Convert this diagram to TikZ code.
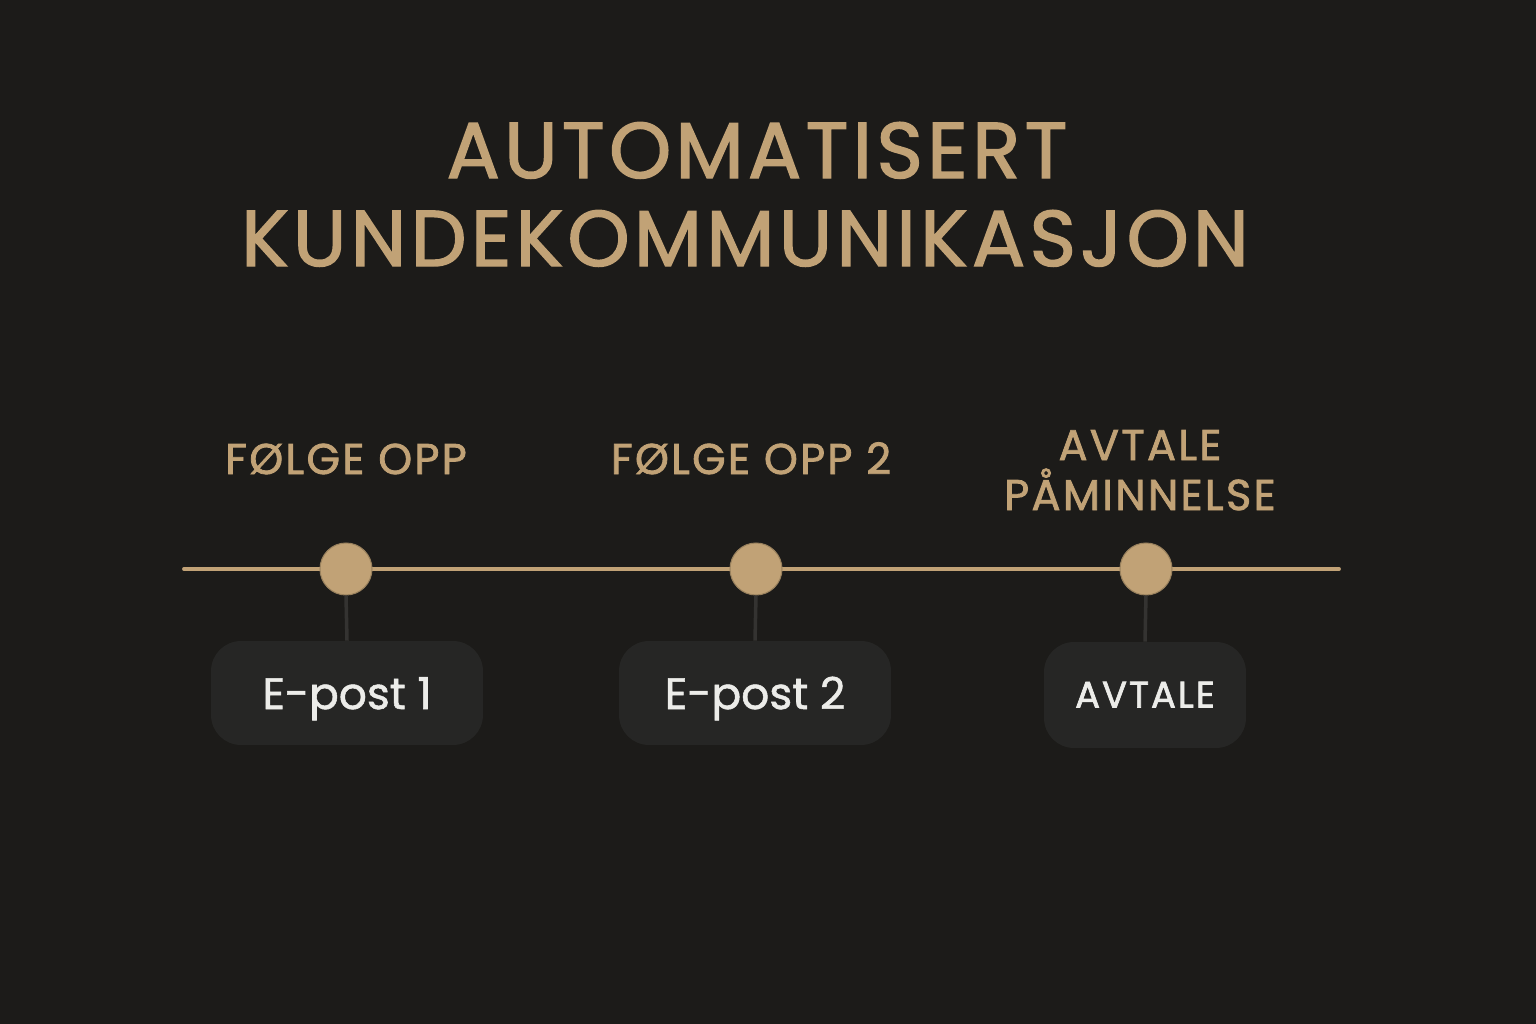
\documentclass[tikz,border=0pt]{standalone}
\usepackage{fontspec}
\setmainfont{Poppins}[FakeBold=1.2]
\newfontfamily\titlefont{Poppins}[LetterSpace=5.5, FakeBold=1.8]
\newfontfamily\labelfont{Poppins}[LetterSpace=5.5, FakeBold=1.8]
\usetikzlibrary{positioning,calc}

\definecolor{bg}{RGB}{28,27,25}
\definecolor{gold}{RGB}{193,162,118}
\definecolor{boxgray}{RGB}{38,38,37}
\definecolor{stemgray}{RGB}{52,51,49}
\definecolor{offwhite}{RGB}{236,236,233}

\tikzset{
  title/.style={gold, anchor=base, font=\titlefont\fontsize{45}{54}\selectfont},
  steplabel/.style={gold, anchor=base, align=center, font=\labelfont\fontsize{24.5}{28.4}\selectfont},
  dot/.style={circle, fill=gold, draw=gold!80!black, line width=0.6pt, minimum size=1.04cm},
  mailbox/.style={rounded corners=0.6cm, fill=boxgray, text=offwhite, minimum width=5.44cm, minimum height=2.08cm,
                  text height=0.64cm, text depth=0pt, font=\fontsize{25}{30}\selectfont},
  stem/.style={stemgray, line width=2pt}
}

\begin{document}
\begin{tikzpicture}[x=0.02cm, y=-0.02cm, every node/.style={inner sep=0pt}]
  % Define dimensions
  \def\W{1536}
  \def\H{1024}
  \def\ty{569}
  % Background
  \fill[bg] (0,0) rectangle (\W,\H);
  \useasboundingbox (0,0) rectangle (\W,\H);

  % Title
  \node[title] (t1) at (757,178) {AUTOMATISERT};
  \node[title] (t2) at (745,266) {KUNDEKOMMUNIKASJON};

  % Define points
  \coordinate (L) at (184,\ty);
  \coordinate (R) at (1339,\ty);
  \draw[gold, line width=2.2pt, line cap=round] (L) -- (R);

  % Draw points
  \foreach \name/\x in {d1/346, d2/756, d3/1146}
      \node[dot] (\name) at (\x,\ty) {};

  % Label points
  \node[steplabel] (s1) at (346,474) {FØLGE OPP};
  \node[steplabel] (s2) at (751,474) {FØLGE OPP 2};
  \node[steplabel] (s3) at (1140,510) {AVTALE\\PÅMINNELSE};

  % Boxes
  \node[mailbox] (b1) at (347,693) {E-post 1};
  \node[mailbox] (b2) at (755,693) {E-post 2};
  \node[mailbox, minimum width=4.04cm, minimum height=2.12cm, text height=0.5cm,
        font=\labelfont\fontsize{21}{26}\selectfont] (b3) at (1145,695) {AVTALE};

  \foreach \i in {1,2,3}
      \draw[stem] (d\i.south) -- (b\i.north);
\end{tikzpicture}
\end{document}
